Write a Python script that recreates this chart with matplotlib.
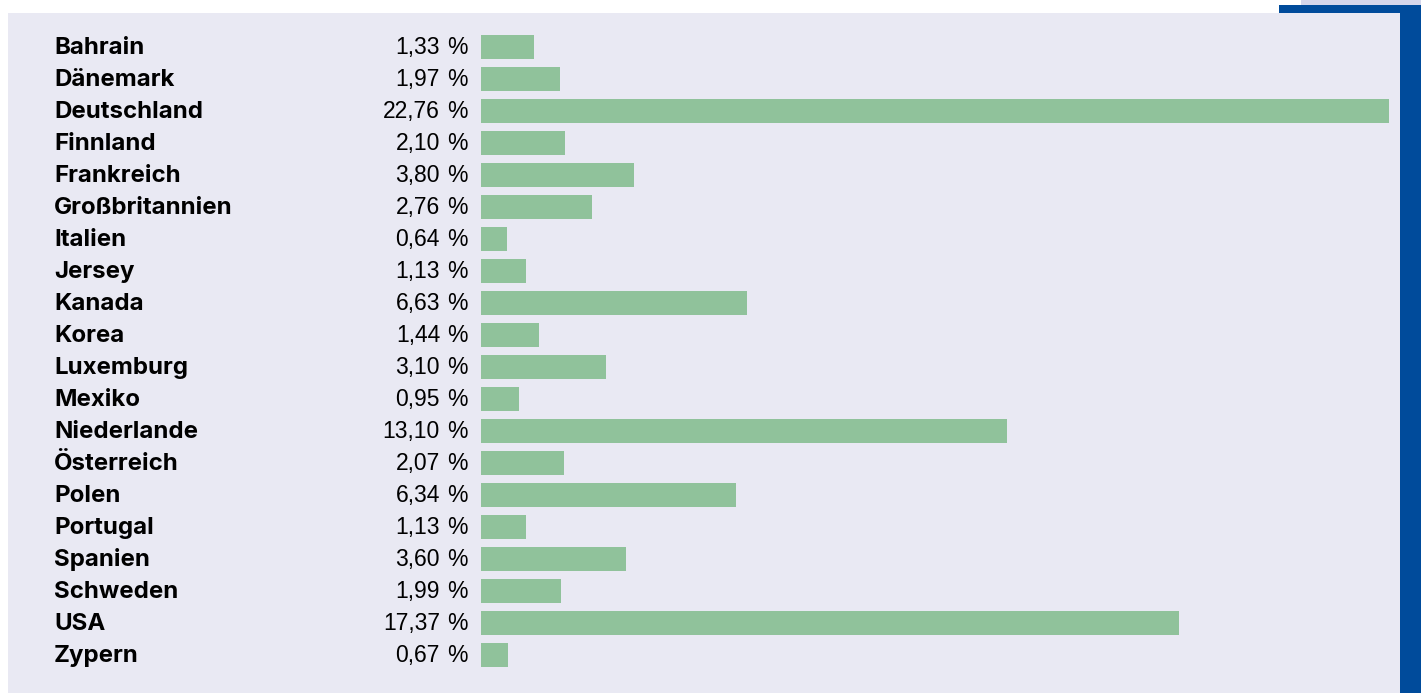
import matplotlib
matplotlib.use("Agg")
import matplotlib.pyplot as plt
from matplotlib.patches import Rectangle
import matplotlib.transforms as mtransforms

countries = ["Bahrain", "Dänemark", "Deutschland", "Finnland", "Frankreich",
             "Großbritannien", "Italien", "Jersey", "Kanada", "Korea",
             "Luxemburg", "Mexiko", "Niederlande", "Österreich", "Polen",
             "Portugal", "Spanien", "Schweden", "USA", "Zypern"]
values = [1.33, 1.97, 22.76, 2.10, 3.80, 2.76, 0.64, 1.13, 6.63, 1.44,
          3.10, 0.95, 13.10, 2.07, 6.34, 1.13, 3.60, 1.99, 17.37, 0.67]

W, H = 1421, 693
fig = plt.figure(figsize=(W / 100, H / 100), dpi=100)
fig.patch.set_facecolor("white")

def fr(x0, y0, x1, y1, color):
    # pixel coords from top-left
    fig.patches.append(Rectangle((x0 / W, 1 - y1 / H), (x1 - x0) / W, (y1 - y0) / H,
                                 transform=fig.transFigure, facecolor=color,
                                 edgecolor="none", zorder=-10))

fr(1301, 0, 1421, 5, "#d5d6ea")
fr(1279, 5, 1421, 13, "#004b9b")
fr(8, 13, 1400, 693, "#e9e9f3")
fr(1400, 13, 1421, 693, "#004b9b")

ax_left, ax_right = 481, 1389
ax_top, ax_bot = 31, 671
ax = fig.add_axes([ax_left / W, 1 - ax_bot / H, (ax_right - ax_left) / W, (ax_bot - ax_top) / H])
ax.set_zorder(5)
ax.set_facecolor("none")
n = len(countries)
ypos = list(range(n))
ax.barh(ypos, values, height=0.72, color="#90c29b", zorder=2)
ax.set_xlim(0, 22.6)
ax.set_ylim(n - 0.5, -0.5)
ax.axis("off")

trans = mtransforms.blended_transform_factory(fig.transFigure, ax.transData)
trans = trans + mtransforms.ScaledTranslation(0, -7 / 100, fig.dpi_scale_trans)
vfont = ["Liberation Sans", "DejaVu Sans"]
for i, (c, v) in enumerate(zip(countries, values)):
    ax.text(54 / W, i, c, transform=trans, ha="left", va="baseline",
            fontsize=17.3, fontweight="bold", family=["Inter", "DejaVu Sans"],
            color="black", clip_on=False)
    ax.text(440 / W, i, f"{v:.2f}".replace(".", ","), transform=trans,
            ha="right", va="baseline", fontsize=16.5, family=vfont,
            color="black", clip_on=False)
    ax.text(468 / W, i, "%", transform=trans,
            ha="right", va="baseline", fontsize=16.5, family=vfont,
            color="black", clip_on=False)

fig.savefig("out.png", dpi=100)
